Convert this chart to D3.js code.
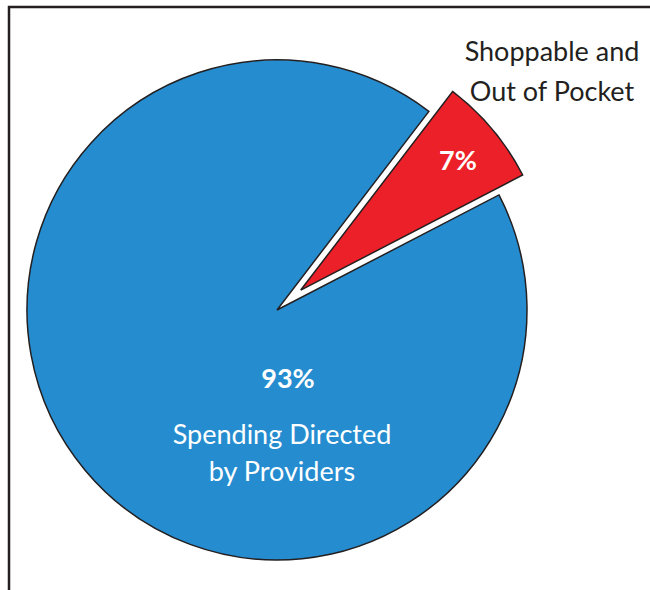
<!DOCTYPE html>
<html>
<head>
<meta charset="utf-8">
<script src="https://cdn.jsdelivr.net/npm/d3@7"></script>
<style>
  body { margin: 0; background: #fff; }
  svg { display: block; font-family: Lato, "Open Sans", sans-serif; }
</style>
</head>
<body>
<svg id="chart"></svg>
<script>
// slices, red one first so it starts at the upper right
const categories = ["Shoppable and Out of Pocket", "Spending Directed by Providers"];
const shares = [7, 93];
const colors = ["#ec2028", "#258dcf"];

const width = 650, height = 590;
const cx = 277, cy = 310, radius = 250;
const startDeg = 37.4;

const svg = d3.select("#chart").attr("width", width).attr("height", height);

// frame, open at the right and bottom edges
svg.append("rect")
  .attr("x", 9).attr("y", 7)
  .attr("width", width + 10).attr("height", height + 10)
  .attr("fill", "none").attr("stroke", "#231f20").attr("stroke-width", 2.5);

const pie = d3.pie()
  .sort(null)
  .startAngle(startDeg * Math.PI / 180)
  .endAngle(startDeg * Math.PI / 180 + 2 * Math.PI);

const arcs = pie(shares);
const arc = d3.arc().innerRadius(0).outerRadius(radius);

const g = svg.append("g").attr("transform", `translate(${cx},${cy})`);

// pull the small slice out of the pie
const explode = d => {
  if (d.index !== 0) return [0, 0];
  const mid = (d.startAngle + d.endAngle) / 2;
  return [Math.sin(mid) * 31, -Math.cos(mid) * 31];
};

g.selectAll("path")
  .data(arcs)
  .join("path")
  .attr("d", arc)
  .attr("transform", d => `translate(${explode(d)})`)
  .attr("fill", (d, i) => colors[i])
  .attr("stroke", "#231f20")
  .attr("stroke-width", 1.5)
  .attr("stroke-linejoin", "miter");

// 7% inside the red slice
svg.append("text")
  .attr("x", 458).attr("y", 170)
  .attr("text-anchor", "middle")
  .attr("fill", "#fff").attr("font-weight", 700).attr("font-size", 27)
  .text(shares[0] + "%");

// 93% and its label inside the blue slice
svg.append("text")
  .attr("x", 288).attr("y", 388)
  .attr("text-anchor", "middle")
  .attr("fill", "#fff").attr("font-weight", 700).attr("font-size", 27)
  .text(shares[1] + "%");

svg.append("text")
  .attr("text-anchor", "middle")
  .attr("fill", "#fff").attr("font-size", 27)
  .selectAll("tspan")
  .data(["Spending Directed", "by Providers"])
  .join("tspan")
  .attr("x", 282)
  .attr("y", (d, i) => 444 + i * 37)
  .text(d => d);

// outside label for the red slice
svg.append("text")
  .attr("text-anchor", "middle")
  .attr("fill", "#231f20").attr("font-size", 27)
  .selectAll("tspan")
  .data(["Shoppable and", "Out of Pocket"])
  .join("tspan")
  .attr("x", 552)
  .attr("y", (d, i) => 61 + i * 40)
  .text(d => d);
</script>
</body>
</html>
